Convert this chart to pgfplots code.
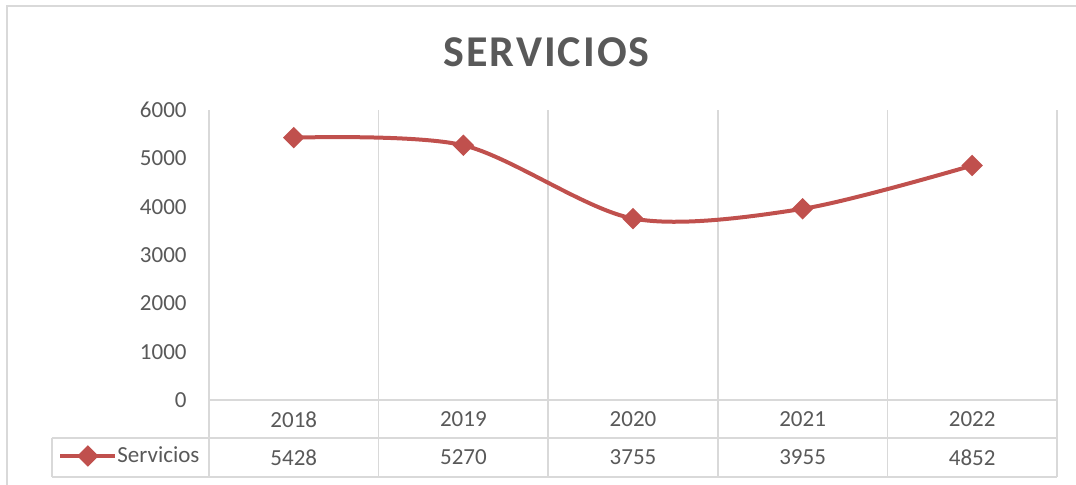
\documentclass[border=0pt]{standalone}
\usepackage{fontspec}
\setmainfont{Carlito}
\newfontfamily\titlefont[LetterSpace=4.7]{Carlito}
\usepackage{pgfplots}
\pgfplotsset{compat=1.18}
\definecolor{txt}{HTML}{595959}
\definecolor{grd}{HTML}{D9D9D9}
\definecolor{ser}{HTML}{C0504D}
\begin{document}
\begin{tikzpicture}[x=1pt,y=1pt]
\useasboundingbox (-104.5,-42.5) rectangle (433.5,200);
\draw[grd, line width=1pt] (-101,-50) -- (-101,197) -- (440,197);
\node[font=\titlefont\bfseries\fontsize{22}{26}\selectfont, text=txt] at (168.75,174) {SERVICIOS};
\begin{axis}[
  at={(0,0)}, anchor=south west, scale only axis, width=424pt, height=145pt,
  xmin=-0.5, xmax=4.5, ymin=0, ymax=6000,
  xtick={0,...,4}, xticklabels={2018,2019,2020,2021,2022},
  minor xtick={-0.5,0.5,...,4.5}, xminorgrids=true,
  minor grid style={grd, line width=0.75pt},
  ytick={0,1000,...,6000},
  major tick length=0pt, minor tick length=0pt,
  axis line style={draw=none},
  tick label style={font=\fontsize{11.5}{13}\selectfont, text=txt},
  /pgf/number format/assume math mode=true,
  /pgf/number format/1000 sep={},
  yticklabel style={anchor=east, inner sep=0pt, xshift=-11pt},
  xticklabel style={anchor=center, inner sep=0pt, yshift=-9.75pt},
  clip=false,
  legend style={at={(-0.1781,-0.193)}, anchor=west, draw=none, fill=none, inner sep=0pt,
    font=\fontsize{11.5}{13}\selectfont, text=txt,
    nodes={inner sep=0pt},
    /tikz/every even column/.style={column sep=0pt}},
  legend image code/.code={\draw[#1, mark repeat=2, mark phase=2] plot coordinates {(0pt,0pt) (13.75pt,0pt) (27.5pt,0pt)};},
]
\addplot[ser, line width=2pt, smooth, tension=0.5, mark=square*, mark size=2.8pt,
  mark options={rotate=45, solid}]
  coordinates {(0,5428) (1,5270) (2,3755) (3,3955) (4,4852)};
\addlegendentry{Servicios}
\end{axis}
\begin{scope}[grd, line width=0.75pt]
\draw (0,0) -- (424,0);
\draw (-78.5,-19) -- (424,-19);
\draw (-78.5,-38.5) -- (424,-38.5);
\draw (-78.5,-19) -- (-78.5,-38.5);
\foreach \x in {0,84.8,169.6,254.4,339.2,424} \draw (\x,0) -- (\x,-38.5);
\end{scope}
\begin{scope}[font=\fontsize{11.5}{13}\selectfont, text=txt]
\node at (42.4,-28.75) {5428};
\node at (127.2,-28.75) {5270};
\node at (212,-28.75) {3755};
\node at (296.8,-28.75) {3955};
\node at (381.6,-28.75) {4852};
\end{scope}
\end{tikzpicture}
\end{document}
